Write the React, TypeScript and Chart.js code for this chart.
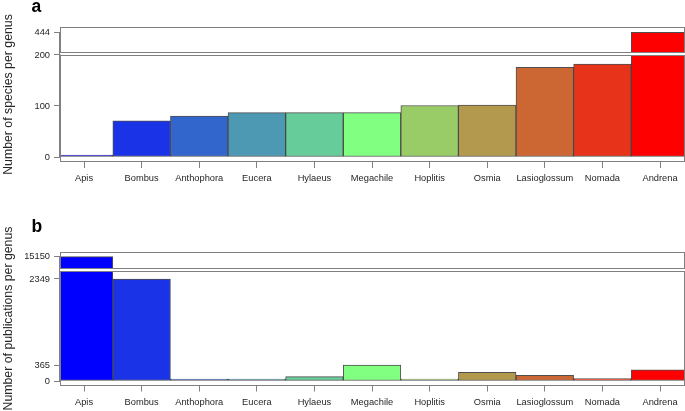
import React, { useEffect, useRef } from 'react';
import { Chart, registerables } from 'chart.js';

Chart.register(...registerables);

const genera = ['Apis', 'Bombus', 'Anthophora', 'Eucera', 'Hylaeus', 'Megachile', 'Hoplitis', 'Osmia', 'Lasioglossum', 'Nomada', 'Andrena'];
const speciesPerGenus = [1, 71, 80, 87, 87, 87, 101, 102, 176, 182, 444];
const publicationsPerGenus = [15150, 2349, 46, 23, 99, 365, 30, 198, 129, 53, 260];
const barColors = ['#0000FF', '#1A33E6', '#3366CC', '#4D99B3', '#66CC99', '#80FF80', '#99CC66', '#B3994D', '#CC6633', '#E6331A', '#FF0000'];
const speciesTicksLower = [0, 100, 200];
const speciesTicksUpper = [444];
const publicationTicksLower = [0, 365, 2349];
const publicationTicksUpper = [15150];

const FONT = '"Liberation Sans", Arial, sans-serif';
const TEXT = '#262626';
const AXIS = '#808080';
const BAR_BORDER = 'rgba(35,35,35,0.8)';

type Spec = {
  values: number[];
  lowMin: number; lowMax: number; highMin: number; highMax: number;
  lowTicks: number[]; highTicks: number[];
  highWeight: number; lowWeight: number;
  padTop: number; xAxisHeight: number;
  letter: string; letterBaseline: number; yTitle: string;
};

function buildConfig(spec: Spec): any {
  const lowData = spec.values.map((v, i) => ({ x: i, y: v }));
  const highData = spec.values.map((v, i) => ({ x: i, y: v > spec.highMin ? v : null }));
  const common = {
    backgroundColor: barColors,
    borderColor: BAR_BORDER,
    borderWidth: 1,
    borderSkipped: false,
    grouped: false,
    barPercentage: 1,
    categoryPercentage: 1,
  };
  const tickFont = { family: FONT, size: 9.3 };
  const yAxis = (min: number, max: number, ticks: number[], weight: number, stackWeight: number) => ({
    type: 'linear',
    position: 'left',
    stack: 'y',
    stackWeight,
    weight,
    min,
    max,
    afterBuildTicks: (s: any) => { s.ticks = ticks.map((value) => ({ value })); },
    afterFit: (s: any) => { s.width = 61; },
    ticks: { color: TEXT, font: tickFont, padding: 4, autoSkip: false, callback: (v: any) => String(v) },
    grid: { drawOnChartArea: false, drawTicks: true, tickLength: 7, color: AXIS, offset: false },
    border: { display: false },
  });

  const decor = {
    id: 'decor',
    afterDatasetsDraw(chart: any) {
      const { ctx, chartArea } = chart;
      const hi = chart.scales.yHigh;
      const lo = chart.scales.yLow;
      const L = Math.round(chartArea.left) - 0.5;
      const R = Math.round(chartArea.right) - 0.5;
      const T = Math.round(chartArea.top) + 0.5;
      const B = Math.round(chartArea.bottom) - 0.5;
      const split = lo.top;
      const g1 = Math.floor(split - 1.5) + 0.5;
      const g2 = Math.floor(split + 1.5) + 0.5;
      ctx.save();
      ctx.fillStyle = '#ffffff';
      ctx.fillRect(L, g1, R - L + 1, g2 - g1);
      ctx.strokeStyle = AXIS;
      ctx.lineWidth = 1;
      ctx.strokeRect(L, T, R - L, g1 - T);
      ctx.strokeRect(L, g2, R - L, B - g2);
      const yTop = hi.getPixelForValue(spec.highTicks[spec.highTicks.length - 1]);
      const yBot = lo.getPixelForValue(spec.lowTicks[0]);
      ctx.beginPath();
      ctx.moveTo(L - 1, yTop);
      ctx.lineTo(L - 1, yBot);
      ctx.stroke();
      ctx.restore();
    },
    afterDraw(chart: any) {
      const { ctx, chartArea } = chart;
      ctx.save();
      ctx.fillStyle = '#000000';
      ctx.font = `bold 17.5px ${FONT}`;
      ctx.textAlign = 'left';
      ctx.textBaseline = 'alphabetic';
      ctx.fillText(spec.letter, 31.5, spec.letterBaseline);
      ctx.fillStyle = TEXT;
      ctx.font = `12.3px ${FONT}`;
      ctx.textAlign = 'center';
      ctx.translate(12, (chartArea.top + chartArea.bottom) / 2);
      ctx.rotate(-Math.PI / 2);
      ctx.fillText(spec.yTitle, 0, 0);
      ctx.restore();
    },
  };

  return {
    type: 'bar',
    data: {
      datasets: [
        { ...common, data: lowData, yAxisID: 'yLow', xAxisID: 'x', minBarLength: 2 },
        { ...common, data: highData, yAxisID: 'yHigh', xAxisID: 'x' },
      ],
    },
    options: {
      animation: false,
      responsive: true,
      maintainAspectRatio: false,
      events: [],
      layout: { padding: { top: spec.padTop, right: 0.5, left: 0, bottom: 0 } },
      plugins: { legend: { display: false }, tooltip: { enabled: false }, title: { display: false } },
      scales: {
        x: {
          type: 'linear',
          position: 'bottom',
          min: -0.4,
          max: 10.425,
          offset: false,
          afterBuildTicks: (s: any) => { s.ticks = genera.map((_, i) => ({ value: i })); },
          afterFit: (s: any) => { s.height = spec.xAxisHeight; },
          ticks: {
            autoSkip: false, maxRotation: 0, minRotation: 0, padding: 5, color: TEXT, font: tickFont,
            callback: (v: any) => genera[v] ?? '',
          },
          grid: { drawOnChartArea: false, drawTicks: true, tickLength: 6, color: AXIS, offset: false },
          border: { display: false },
        },
        yHigh: yAxis(spec.highMin, spec.highMax, spec.highTicks, 2, spec.highWeight),
        yLow: yAxis(spec.lowMin, spec.lowMax, spec.lowTicks, 1, spec.lowWeight),
      },
    },
    plugins: [decor],
  };
}

const specA: Spec = {
  values: speciesPerGenus,
  lowMin: -9.8, lowMax: 202.9, highMin: 400, highMax: 455,
  lowTicks: speciesTicksLower, highTicks: speciesTicksUpper,
  highWeight: 26.5, lowWeight: 108.5,
  padTop: 27, xAxisHeight: 43,
  letter: 'a', letterBaseline: 12, yTitle: 'Number of species per genus',
};

const specB: Spec = {
  values: publicationsPerGenus,
  lowMin: -103.6, lowMax: 2563, highMin: 14900, highMax: 15250,
  lowTicks: publicationTicksLower, highTicks: publicationTicksUpper,
  highWeight: 18.2, lowWeight: 115.8,
  padTop: 46.5, xAxisHeight: 25.5,
  letter: 'b', letterBaseline: 26.7, yTitle: 'Number of publications per genus',
};

function Panel({ spec, top, height }: { spec: Spec; top: number; height: number }) {
  const ref = useRef<HTMLCanvasElement>(null);
  useEffect(() => {
    const chart = new Chart(ref.current as HTMLCanvasElement, buildConfig(spec));
    return () => chart.destroy();
  }, [spec]);
  return (
    <div style={{ position: 'absolute', left: 0, top, width: 685, height }}>
      <canvas ref={ref} />
    </div>
  );
}

export default function App() {
  return (
    <div style={{ position: 'absolute', left: 0, top: 0, width: 685, height: 411, background: '#ffffff' }}>
      <Panel spec={specA} top={0} height={205} />
      <Panel spec={specB} top={205} height={206} />
    </div>
  );
}
